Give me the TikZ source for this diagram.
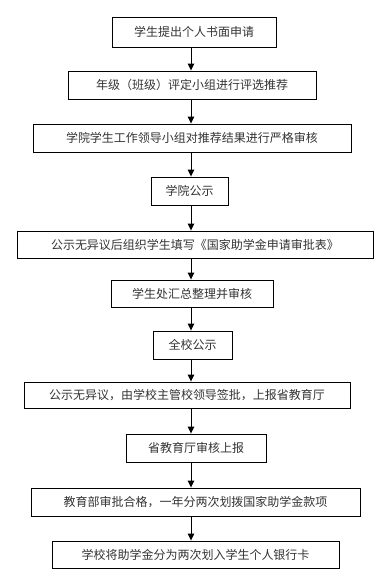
\documentclass[tikz,border=0pt]{standalone}
\usepackage{fontspec}
\setmainfont{Noto Sans CJK SC}
\usetikzlibrary{arrows.meta}

\begin{document}
\begin{tikzpicture}[
    x=1pt,y=-1pt,
    stepbox/.style={rectangle,draw,line width=0.9pt,inner sep=0pt,align=center,
        font=\fontsize{12pt}{14pt}\selectfont,text=black!80},
    flow/.style={-{Triangle[length=7pt,width=6.5pt]},line width=0.9pt}
]
\useasboundingbox (0,0) rectangle (390,582);

% Step Nodes
\node[stepbox,minimum width=164,minimum height=30] (s1) at (194,32) {学生提出个人书面申请};
\node[stepbox,minimum width=248,minimum height=28] (s2) at (192,85) {年级（班级）评定小组进行评选推荐};
\node[stepbox,minimum width=318,minimum height=28] (s3) at (192,138) {学院学生工作领导小组对推荐结果进行严格审核};
\node[stepbox,minimum width=77,minimum height=28] (s4) at (189.5,191) {学院公示};
\node[stepbox,minimum width=356,minimum height=27] (s5) at (195,244.5) {公示无异议后组织学生填写《国家助学金申请审批表》};
\node[stepbox,minimum width=162,minimum height=27] (s6) at (192,293.5) {学生处汇总整理并审核};
\node[stepbox,minimum width=79,minimum height=28] (s7) at (192.5,345) {全校公示};
\node[stepbox,minimum width=326,minimum height=26] (s8) at (187,395) {公示无异议，由学校主管校领导签批，上报省教育厅};
\node[stepbox,minimum width=140,minimum height=28] (s9) at (196,448) {省教育厅审核上报};
\node[stepbox,minimum width=329,minimum height=28] (s10) at (195.5,502) {教育部审批合格，一年分两次划拨国家助学金款项};
\node[stepbox,minimum width=287,minimum height=27] (s11) at (195.5,554.5) {学校将助学金分为两次划入学生个人银行卡};

% Arrows
\coordinate (ax) at (191,0);
\foreach \a/\b in {s1/s2,s2/s3,s3/s4,s4/s5,s5/s6,s6/s7,s7/s8,s8/s9,s9/s10,s10/s11}
    \draw[flow] (\a.south -| ax) -- (\b.north -| ax);

\end{tikzpicture}
\end{document}
